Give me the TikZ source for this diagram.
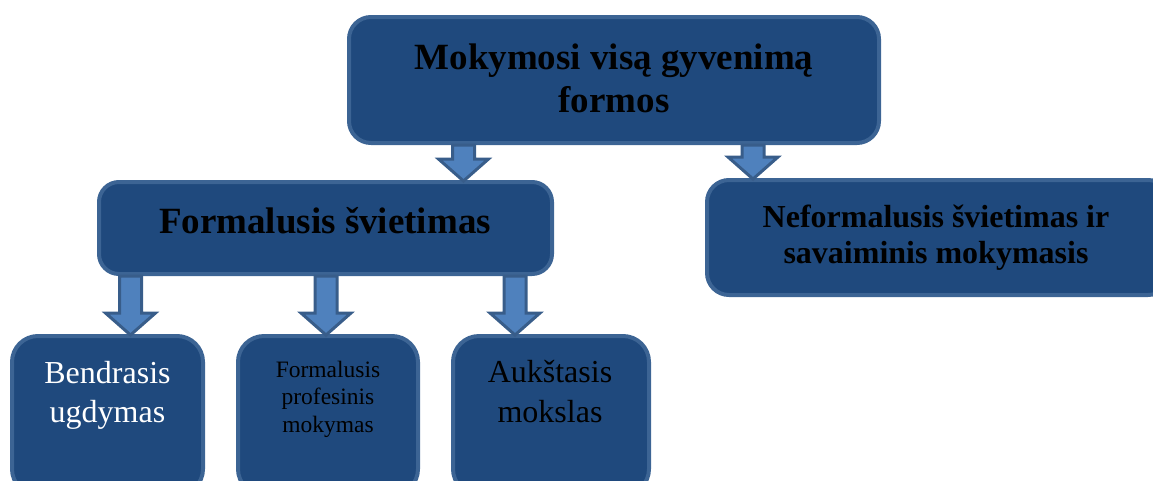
\documentclass[tikz,border=0pt]{standalone}
\usepackage{fontspec}
\setmainfont{Liberation Serif}
\usetikzlibrary{calc}
\definecolor{boxfill}{HTML}{1F497D}
\definecolor{boxline}{HTML}{3C6494}
\definecolor{arrfill}{HTML}{4F81BD}
\definecolor{arrline}{HTML}{385D8A}
\tikzset{
  box/.style={draw=boxline, fill=boxfill, line width=4pt, rounded corners=#1, inner sep=0pt},
  box/.default=20pt,
  lbl/.style={align=center, inner sep=0pt},
  blockarr/.style={draw=arrline, fill=arrfill, line width=3pt, line join=miter}
}
\newcommand{\blockarrow}[3]{%
  \draw[blockarr] let \p1=(#2.south), \p2=(#3.north) in
    (#1pt-11pt,\y1) -- (#1pt+11pt,\y1) -- (#1pt+11pt,\y2+21pt) -- (#1pt+25pt,\y2+21pt)
    -- (#1pt,\y2-1pt) -- (#1pt-25pt,\y2+21pt) -- (#1pt-11pt,\y2+21pt) -- cycle;}
\begin{document}
\begin{tikzpicture}[x=1pt,y=-1pt]
\useasboundingbox (0,0) rectangle (1153,480);
\clip (0,0) rectangle (1153,480);
% boxes
\node[box=22pt, minimum width=530pt, minimum height=126pt] (top) at (614,80) {};
\node[box=20pt, minimum width=453pt, minimum height=92pt] (form) at (325.5,228) {};
\node[box=22pt, minimum width=463pt, minimum height=115pt] (neform) at (938.5,237.5) {};
\node[box=26pt, minimum width=191pt, minimum height=159pt] (bend) at (107.5,415.5) {};
\node[box=26pt, minimum width=180pt, minimum height=159pt] (prof) at (328,415.5) {};
\node[box=26pt, minimum width=196pt, minimum height=159pt] (auk) at (551,415.5) {};
% texts
\node[lbl, font=\bfseries\fontsize{37}{43}\selectfont] (ttop) at (614,81.9)
  {\strut Mokymosi visą gyvenimą\\\strut formos};
\node[lbl, font=\bfseries\fontsize{37}{44}\selectfont] (tform) at (325,224.2)
  {\strut Formalusis švietimas};
\node[lbl, font=\bfseries\fontsize{32}{36}\selectfont] (tneform) at (936,237.8)
  {\strut Neformalusis švietimas ir\\\strut savaiminis mokymasis};
\node[lbl, text=white, font=\fontsize{32}{39}\selectfont] (tbend) at (107.5,394.7)
  {\strut Bendrasis\\\strut ugdymas};
\node[lbl, font=\fontsize{23.5}{27.5}\selectfont] (tprof) at (328,399)
  {\strut Formalusis\\\strut profesinis\\\strut mokymas};
\node[lbl, font=\fontsize{32}{40}\selectfont] (tauk) at (550,394)
  {\strut Aukštasis\\\strut mokslas};
% arrows
\blockarrow{463.5}{top}{form}
\blockarrow{753}{top}{neform}
\blockarrow{130.5}{form}{bend}
\blockarrow{326}{form}{prof}
\blockarrow{515}{form}{auk}
\end{tikzpicture}
\end{document}
